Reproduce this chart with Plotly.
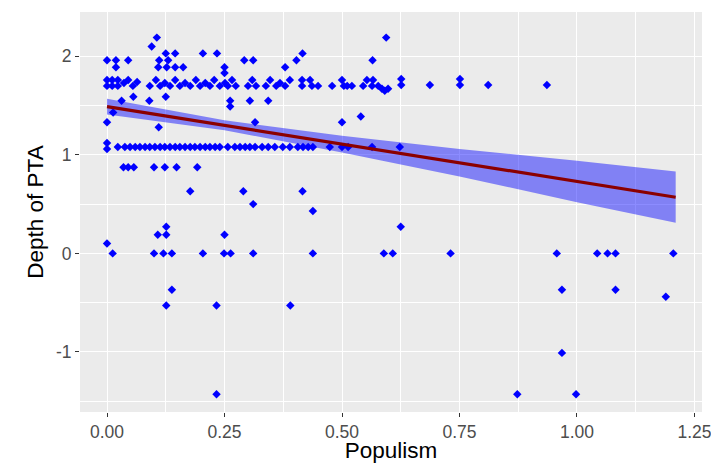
import plotly.graph_objects as go

# ---- data ----
# main row (~1.7)
row17_x = [0.000, 0.000, 0.011, 0.011, 0.023, 0.023, 0.036, 0.045, 0.055, 0.064,
           0.091, 0.104, 0.113, 0.123, 0.134, 0.145, 0.155, 0.166, 0.177, 0.189,
           0.198, 0.209, 0.219, 0.228, 0.240, 0.251, 0.257, 0.266, 0.274, 0.300,
           0.309, 0.317, 0.338, 0.347, 0.360, 0.368, 0.379, 0.389, 0.415, 0.415,
           0.432, 0.436, 0.449, 0.479, 0.500, 0.504, 0.511, 0.521, 0.545, 0.553,
           0.564, 0.566, 0.577, 0.585, 0.591, 0.598, 0.626, 0.626, 0.687, 0.751,
           0.751, 0.811, 0.936]
row17_y = [1.76, 1.70, 1.76, 1.70, 1.76, 1.70, 1.73, 1.76, 1.70, 1.74,
           1.70, 1.76, 1.70, 1.73, 1.70, 1.76, 1.70, 1.73, 1.70, 1.76,
           1.70, 1.73, 1.70, 1.76, 1.70, 1.73, 1.70, 1.76, 1.70, 1.70,
           1.76, 1.70, 1.70, 1.76, 1.70, 1.73, 1.70, 1.76, 1.76, 1.70,
           1.76, 1.70, 1.70, 1.70, 1.76, 1.70, 1.70, 1.70, 1.70, 1.76,
           1.70, 1.76, 1.70, 1.67, 1.65, 1.67, 1.77, 1.71, 1.71, 1.77,
           1.71, 1.71, 1.71]

# upper scatter (above 1.8 and between 1.2 and 1.65)
upper_x = [0.106, 0.095, 0.594,
           0.125, 0.145, 0.204, 0.234, 0.416,
           0.000, 0.019, 0.045, 0.111, 0.130, 0.292, 0.311, 0.403, 0.565,
           0.019, 0.109, 0.127, 0.145, 0.162, 0.250, 0.379, 0.250,
           0.031, 0.056, 0.090, 0.125, 0.262, 0.262, 0.304, 0.343,
           0.013, 0.000, 0.110, 0.315, 0.500, 0.540]
upper_y = [2.19, 2.10, 2.19,
           2.03, 2.03, 2.03, 2.03, 2.03,
           1.96, 1.96, 1.96, 1.96, 1.96, 1.96, 1.96, 1.96, 1.96,
           1.89, 1.89, 1.89, 1.89, 1.89, 1.89, 1.89, 1.83,
           1.55, 1.59, 1.55, 1.59, 1.55, 1.49, 1.55, 1.55,
           1.43, 1.33, 1.28, 1.33, 1.33, 1.39]

# row near 1.1
row11_x = [0.000, 0.000, 0.023, 0.038, 0.049, 0.060, 0.070, 0.081, 0.091, 0.102,
           0.113, 0.123, 0.134, 0.145, 0.155, 0.166, 0.177, 0.187, 0.198, 0.209,
           0.219, 0.230, 0.240, 0.257, 0.272, 0.283, 0.294, 0.304, 0.315, 0.330,
           0.343, 0.357, 0.374, 0.389, 0.406, 0.417, 0.428, 0.438, 0.474, 0.500,
           0.513, 0.564, 0.623]
row11_y = [1.12, 1.06, 1.08, 1.08, 1.08, 1.08, 1.08, 1.08, 1.08, 1.08,
           1.08, 1.08, 1.08, 1.08, 1.08, 1.08, 1.08, 1.08, 1.08, 1.08,
           1.08, 1.08, 1.08, 1.08, 1.08, 1.08, 1.08, 1.08, 1.08, 1.08,
           1.08, 1.08, 1.08, 1.08, 1.08, 1.08, 1.08, 1.08, 1.08, 1.08,
           1.08, 1.08, 1.08]

# middle / low points
low_x = [0.035, 0.045, 0.057, 0.100, 0.123, 0.148, 0.192,
         0.177, 0.290, 0.311, 0.416, 0.438, 0.000, 0.126, 0.108, 0.126, 0.250, 0.625,
         0.012, 0.100, 0.120, 0.138, 0.204, 0.249, 0.263, 0.311, 0.438, 0.589,
         0.608, 0.731, 0.957, 1.043, 1.065, 1.082, 1.205,
         0.138, 0.126, 0.233, 0.390, 0.233, 0.968, 1.082, 1.189, 0.968, 0.873, 0.998]
low_y = [0.875, 0.875, 0.875, 0.875, 0.875, 0.875, 0.875,
         0.63, 0.63, 0.50, 0.63, 0.43, 0.10, 0.27, 0.19, 0.19, 0.19, 0.27,
         0.00, 0.00, 0.00, 0.00, 0.00, 0.00, 0.00, 0.00, 0.00, 0.00,
         0.00, 0.00, 0.00, 0.00, 0.00, 0.00, 0.00,
         -0.37, -0.53, -0.53, -0.53, -1.43, -0.37, -0.37, -0.44, -1.01, -1.43, -1.43]

# fitted line and confidence band
fit_x = [0.000, 0.25, 0.50, 0.75, 1.00, 1.21]
fit_y = [1.49, 1.30, 1.11, 0.92, 0.73, 0.57]
ci_lo = [1.41, 1.25, 1.025, 0.78, 0.52, 0.31]
ci_hi = [1.57, 1.35, 1.195, 1.06, 0.94, 0.83]

x_ticks = [0.00, 0.25, 0.50, 0.75, 1.00, 1.25]
x_tick_text = ["0.00", "0.25", "0.50", "0.75", "1.00", "1.25"]
y_ticks = [-1, 0, 1, 2]
y_tick_text = ["-1", "0", "1", "2"]

pop = row17_x + upper_x + row11_x + low_x
dep = row17_y + upper_y + row11_y + low_y

fig = go.Figure()
fig.add_trace(go.Scatter(
    x=pop, y=dep, mode="markers",
    marker=dict(symbol="diamond", size=6.5, color="#0000FF", line=dict(width=0)),
    showlegend=False, hoverinfo="skip"))
fig.add_trace(go.Scatter(
    x=fit_x + fit_x[::-1], y=ci_hi + ci_lo[::-1], fill="toself",
    fillcolor="rgba(0,0,255,0.45)", line=dict(width=0), mode="lines",
    showlegend=False, hoverinfo="skip"))
fig.add_trace(go.Scatter(
    x=fit_x, y=fit_y, mode="lines", line=dict(color="#8B0000", width=3.2),
    showlegend=False, hoverinfo="skip"))

font_fam = "Liberation Sans, Arial, sans-serif"
fig.update_layout(
    width=711, height=463,
    margin=dict(l=80, r=9, t=12, b=51),
    paper_bgcolor="white", plot_bgcolor="#EBEBEB",
    font=dict(family=font_fam),
)
fig.update_xaxes(
    range=[-0.0575, 1.266], tickvals=x_ticks, ticktext=x_tick_text,
    showgrid=True, gridcolor="white", gridwidth=1.3, zeroline=False,
    ticks="outside", ticklen=4, tickwidth=1.2, tickcolor="#333333",
    tickfont=dict(size=17.5, color="#4D4D4D", family=font_fam),
    ticklabeloverflow="allow",
    minor=dict(tickvals=[0.125, 0.375, 0.625, 0.875, 1.125], showgrid=True,
               gridcolor="white", gridwidth=0.6, ticks=""),
    title=dict(text="Populism", font=dict(size=22.5, color="black", family=font_fam), standoff=4),
    automargin=False, showline=False,
)
fig.update_yaxes(
    range=[-1.61, 2.45], tickvals=y_ticks, ticktext=y_tick_text,
    showgrid=True, gridcolor="white", gridwidth=1.3, zeroline=False,
    ticks="outside", ticklen=4, tickwidth=1.2, tickcolor="#333333",
    tickfont=dict(size=17.5, color="#4D4D4D", family=font_fam),
    minor=dict(tickvals=[-1.5, -0.5, 0.5, 1.5], showgrid=True,
               gridcolor="white", gridwidth=0.6, ticks=""),
    title=dict(text="Depth of PTA", font=dict(size=22.5, color="black", family=font_fam), standoff=6),
    automargin=False, showline=False,
)
fig.write_html(
    "out.html",
    config={"displayModeBar": False},
    post_script="document.body.style.margin='0';document.body.style.overflow='hidden';",
)
